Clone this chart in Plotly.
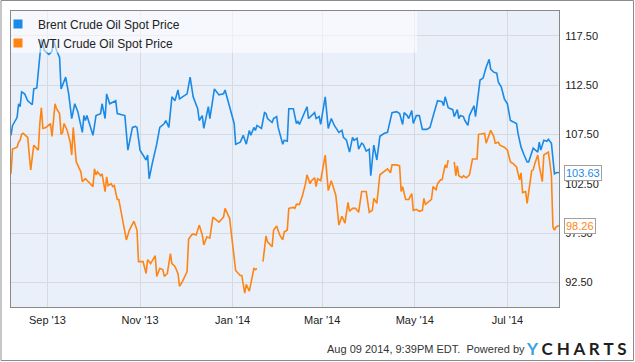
import plotly.graph_objects as go

# ---------------- data ----------------
brent_dates = [
    "2013-08-08", "2013-08-09", "2013-08-12", "2013-08-13", "2013-08-14", "2013-08-15", "2013-08-17",
    "2013-08-19", "2013-08-22", "2013-08-23", "2013-08-25", "2013-08-27", "2013-08-28", "2013-08-30",
    "2013-09-02", "2013-09-04", "2013-09-05", "2013-09-07", "2013-09-09", "2013-09-10", "2013-09-13",
    "2013-09-15", "2013-09-17", "2013-09-19", "2013-09-21", "2013-09-24", "2013-09-25", "2013-09-26",
    "2013-09-27", "2013-10-01", "2013-10-03", "2013-10-06", "2013-10-07", "2013-10-09", "2013-10-10",
    "2013-10-12", "2013-10-16", "2013-10-17", "2013-10-22", "2013-10-24", "2013-10-27", "2013-10-29",
    "2013-10-30", "2013-11-01", "2013-11-03", "2013-11-05", "2013-11-06", "2013-11-07", "2013-11-09",
    "2013-11-12", "2013-11-14", "2013-11-17", "2013-11-18", "2013-11-20", "2013-11-22", "2013-11-24",
    "2013-11-26", "2013-11-27", "2013-11-29", "2013-12-02", "2013-12-04", "2013-12-06", "2013-12-09",
    "2013-12-10", "2013-12-12", "2013-12-13", "2013-12-16", "2013-12-17", "2013-12-20", "2013-12-23",
    "2013-12-26", "2013-12-27", "2013-12-30", "2014-01-02", "2014-01-03", "2014-01-06", "2014-01-08",
    "2014-01-10", "2014-01-12", "2014-01-13", "2014-01-15", "2014-01-16", "2014-01-17", "2014-01-20",
    "2014-01-22", "2014-01-23", "2014-01-24", "2014-01-27", "2014-01-28", "2014-01-30", "2014-01-31",
    "2014-02-03", "2014-02-04", "2014-02-06", "2014-02-07", "2014-02-10", "2014-02-12", "2014-02-13",
    "2014-02-14", "2014-02-17", "2014-02-19", "2014-02-20", "2014-02-22", "2014-02-24", "2014-02-25",
    "2014-02-27", "2014-02-28", "2014-03-03", "2014-03-05", "2014-03-07", "2014-03-09", "2014-03-12",
    "2014-03-14", "2014-03-15", "2014-03-17", "2014-03-19", "2014-03-21", "2014-03-22", "2014-03-24",
    "2014-03-25", "2014-03-27", "2014-03-28", "2014-03-30", "2014-04-01", "2014-04-02", "2014-04-04",
    "2014-04-06", "2014-04-08", "2014-04-11", "2014-04-13", "2014-04-16", "2014-04-19", "2014-04-21",
    "2014-04-23", "2014-04-24", "2014-04-26", "2014-04-27", "2014-04-29", "2014-04-30", "2014-05-02",
    "2014-05-04", "2014-05-06", "2014-05-09", "2014-05-11", "2014-05-13", "2014-05-14", "2014-05-16",
    "2014-05-19", "2014-05-20", "2014-05-21", "2014-05-23", "2014-05-26", "2014-05-27", "2014-05-29",
    "2014-05-30", "2014-05-31", "2014-06-02", "2014-06-03", "2014-06-05", "2014-06-06", "2014-06-09",
    "2014-06-10", "2014-06-11", "2014-06-13", "2014-06-15", "2014-06-17", "2014-06-19", "2014-06-20",
    "2014-06-22", "2014-06-24", "2014-06-25", "2014-06-27", "2014-06-29", "2014-07-01", "2014-07-03",
    "2014-07-07", "2014-07-08", "2014-07-10", "2014-07-12", "2014-07-14", "2014-07-15", "2014-07-17",
    "2014-07-18", "2014-07-21", "2014-07-22", "2014-07-23", "2014-07-25", "2014-07-27", "2014-07-28",
    "2014-07-30", "2014-07-31", "2014-08-01", "2014-08-02", "2014-08-04",
]
brent_price = [
    107.4, 108.4, 109.2, 110.6, 110.3, 111.8, 111.6,
    110.9, 110.5, 112.1, 112.2, 115.1, 117.1, 116.0,
    115.6, 115.9, 117.1, 116.0, 115.3, 112.1, 113.3,
    111.6, 109.1, 110.6, 109.8, 107.7, 109.4, 108.9,
    109.4, 107.4, 109.4, 109.6, 110.6, 109.1, 111.6,
    110.6, 110.9, 109.6, 109.4, 105.9, 108.2, 108.3,
    108.2, 105.9, 105.4, 104.9, 105.4, 103.0, 104.5,
    106.5, 108.2, 108.6, 108.9, 108.2, 111.3, 110.9,
    112.0, 111.1, 111.3, 111.6, 113.3, 111.3, 110.1,
    108.9, 109.4, 108.1, 110.3, 109.1, 112.1, 111.5,
    111.6, 112.0, 110.3, 108.6, 106.5, 106.7, 107.4,
    106.5, 107.9, 107.4, 108.2, 107.9, 108.4, 108.1,
    109.7, 109.6, 109.1, 108.7, 109.1, 109.3, 108.2,
    106.5, 106.9, 106.8, 110.1, 110.1, 108.6, 108.8,
    108.5, 109.6, 110.3, 109.1, 109.4, 109.7, 109.1,
    109.3, 108.5, 111.3, 108.1, 109.1, 108.4, 107.7,
    107.9, 107.2, 106.9, 105.7, 107.2, 106.9, 107.1,
    106.0, 106.6, 106.5, 105.8, 106.0, 103.3, 106.4,
    104.9, 107.3, 107.6, 107.7, 109.7, 109.8, 109.6,
    108.5, 109.7, 109.4, 109.1, 109.9, 108.6, 109.4,
    109.4, 108.0, 108.0, 108.2, 109.3, 109.8, 110.9,
    110.8, 110.4, 111.3, 110.2, 110.0, 109.3, 110.0,
    109.1, 109.4, 109.3, 108.9, 108.4, 109.4, 110.4,
    109.3, 110.6, 113.0, 113.2, 114.3, 115.1, 114.1,
    113.8, 113.7, 112.8, 112.3, 111.1, 110.6, 108.9,
    108.6, 107.6, 106.2, 105.4, 104.7, 104.7, 105.7,
    106.1, 105.7, 106.7, 105.9, 106.9, 106.8, 107.0,
    106.6, 104.6, 103.5, 103.6, 103.63,
]

wti_dates = [
    "2013-08-08", "2013-08-09", "2013-08-12", "2013-08-13", "2013-08-14", "2013-08-15", "2013-08-16",
    "2013-08-19", "2013-08-20", "2013-08-21", "2013-08-23", "2013-08-24", "2013-08-26", "2013-08-27",
    "2013-08-28", "2013-08-29", "2013-08-31", "2013-09-03", "2013-09-04", "2013-09-06", "2013-09-07",
    "2013-09-09", "2013-09-10", "2013-09-11", "2013-09-12", "2013-09-14", "2013-09-16", "2013-09-17",
    "2013-09-18", "2013-09-20", "2013-09-23", "2013-09-24", "2013-09-26", "2013-09-28", "2013-10-01",
    "2013-10-02", "2013-10-03", "2013-10-04", "2013-10-06", "2013-10-07", "2013-10-09", "2013-10-10",
    "2013-10-11", "2013-10-13", "2013-10-14", "2013-10-15", "2013-10-17", "2013-10-18", "2013-10-19",
    "2013-10-21", "2013-10-23", "2013-10-25", "2013-10-28", "2013-10-30", "2013-10-31", "2013-11-03",
    "2013-11-05", "2013-11-06", "2013-11-08", "2013-11-11", "2013-11-12", "2013-11-14", "2013-11-16",
    "2013-11-17", "2013-11-19", "2013-11-21", "2013-11-22", "2013-11-24", "2013-11-26", "2013-11-27",
    "2013-11-29", "2013-12-02", "2013-12-03", "2013-12-05", "2013-12-06", "2013-12-08", "2013-12-10",
    "2013-12-12", "2013-12-13", "2013-12-15", "2013-12-17", "2013-12-19", "2013-12-23", "2013-12-26",
    "2013-12-27", "2013-12-30", "2013-12-31", "2014-01-03", "2014-01-06", "2014-01-07", "2014-01-09",
    "2014-01-10", "2014-01-12", "2014-01-15", "2014-01-16", "2014-01-17", "2014-01-20", "2014-01-21",
    "2014-01-23", "2014-01-24", "2014-01-27", "2014-01-28", "2014-01-30", "2014-02-01", "2014-02-03",
    "2014-02-04", "2014-02-06", "2014-02-07", "2014-02-10", "2014-02-11", "2014-02-12", "2014-02-14",
    "2014-02-16", "2014-02-18", "2014-02-19", "2014-02-21", "2014-02-22", "2014-02-24", "2014-02-25",
    "2014-02-26", "2014-02-28", "2014-03-03", "2014-03-05", "2014-03-07", "2014-03-08", "2014-03-10",
    "2014-03-12", "2014-03-14", "2014-03-16", "2014-03-18", "2014-03-19", "2014-03-21", "2014-03-23",
    "2014-03-25", "2014-03-27", "2014-03-28", "2014-03-30", "2014-04-01", "2014-04-03", "2014-04-04",
    "2014-04-06", "2014-04-08", "2014-04-11", "2014-04-13", "2014-04-15", "2014-04-16", "2014-04-19",
    "2014-04-21", "2014-04-22", "2014-04-23", "2014-04-25", "2014-04-27", "2014-04-29", "2014-04-30",
    "2014-05-02", "2014-05-03", "2014-05-04", "2014-05-06", "2014-05-07", "2014-05-08", "2014-05-10",
    "2014-05-12", "2014-05-13", "2014-05-15", "2014-05-16", "2014-05-18", "2014-05-19", "2014-05-21",
    "2014-05-22", "2014-05-23", "2014-05-26", "2014-05-27", "2014-05-28", "2014-05-29", "2014-05-30",
    "2014-06-01", "2014-06-02", "2014-06-04", "2014-06-06", "2014-06-08", "2014-06-10", "2014-06-11",
    "2014-06-12", "2014-06-16", "2014-06-17", "2014-06-20", "2014-06-22", "2014-06-23", "2014-06-25",
    "2014-06-26", "2014-06-29", "2014-07-01", "2014-07-03", "2014-07-05", "2014-07-07", "2014-07-09",
    "2014-07-10", "2014-07-11", "2014-07-13", "2014-07-14", "2014-07-17", "2014-07-18", "2014-07-19",
    "2014-07-21", "2014-07-22", "2014-07-24", "2014-07-25", "2014-07-27", "2014-07-28", "2014-07-29",
    "2014-07-30", "2014-07-31", "2014-08-01", "2014-08-02", "2014-08-04",
]
wti_price = [
    103.5, 106.0, 106.2, 106.7, 106.9, 107.5, 107.6,
    107.2, 105.5, 103.9, 106.4, 106.2, 105.9, 108.6,
    110.2, 108.1, 108.2, 108.6, 107.3, 110.6, 110.1,
    109.6, 107.5, 107.7, 108.6, 107.9, 106.7, 105.4,
    108.2, 104.7, 103.7, 102.7, 103.0, 102.7, 102.2,
    104.0, 103.4, 103.7, 103.3, 103.5, 101.7, 103.2,
    102.3, 102.5, 102.2, 102.3, 100.9, 100.9, 100.0,
    98.4, 96.8, 97.8, 98.7, 97.8, 94.6, 94.6,
    93.4, 94.8, 94.4, 95.2, 93.1, 93.9, 93.8,
    93.1, 93.4, 95.4, 94.4, 94.1, 93.4, 92.1,
    92.6, 93.6, 96.9, 97.3, 97.4, 97.3, 98.3,
    97.3, 96.3, 97.1, 97.0, 99.1, 98.6, 99.1,
    100.0, 99.0, 97.8, 93.7, 93.2, 93.2, 91.4,
    92.3, 91.6, 93.9, 93.8, 93.9, None, 94.6,
    97.2, 96.6, 96.1, 97.8, 98.2, 97.3, 96.8,
    97.6, 97.8, 100.0, 100.1, 100.0, 100.4, 100.4,
    101.3, 102.5, 103.4, 102.5, 102.8, 103.1, 102.2,
    103.0, 102.8, 105.4, 101.8, 102.8, 102.2, 101.3,
    98.3, 99.2, 98.5, 100.6, 99.7, 100.0, 100.0,
    99.6, 101.7, 101.7, 101.7, 99.6, 99.8, 101.0,
    100.5, 103.4, 103.8, 104.0, 103.6, 104.4, 104.4,
    104.3, 101.7, 102.2, 100.9, 100.9, 101.5, 99.8,
    99.9, 99.8, 99.7, 99.8, 101.0, 100.4, 100.7,
    100.9, 102.2, 101.9, 102.5, 102.9, 102.9, 104.4,
    104.1, 104.9, None, 104.7, 103.3, 104.3, 103.3,
    103.1, 103.3, 103.1, 103.4, 105.0, 105.0, 105.0,
    107.5, 107.6, 106.6, 107.9, 107.3, 106.6, 106.7,
    106.4, 106.2, 105.9, 104.7, 104.5, 104.2, 102.9,
    103.6, 101.6, 101.7, 100.5, 103.8, 103.9, 104.5,
    105.4, 104.3, 102.7, 105.4, 105.6, 105.7, 104.6,
    103.3, 98.1, 97.8, 98.1, 98.26,
]

series_names = ["Brent Crude Oil Spot Price", "WTI Crude Oil Spot Price"]
y_ticks = [92.5, 97.5, 102.5, 107.5, 112.5, 117.5]
y_range = [90, 120]
x_range = ["2013-08-08", "2014-08-04"]
footer_text = "Aug 09 2014, 9:39PM EDT.  Powered by"

# ---------------- styling ----------------
BLUE = "#1a8ae6"
ORANGE = "#ff8412"
FONT = "Liberation Sans, Arial, sans-serif"
W, H = 635, 362
ML, MR, MT, MB = 11, 76, 11, 55
PW, PH = W - ML - MR, H - MT - MB


def px_to_paper_x(px):
    return (px - ML) / PW


def px_to_paper_y(py):
    return (H - MB - py) / PH


fig = go.Figure()

fig.add_trace(go.Scatter(x=brent_dates, y=brent_price, mode="lines",
                         line=dict(color=BLUE, width=1.6), showlegend=False,
                         name=series_names[0]))
fig.add_trace(go.Scatter(x=wti_dates, y=wti_price, mode="lines",
                         line=dict(color=ORANGE, width=1.6), showlegend=False,
                         connectgaps=False, name=series_names[1]))

# legend entries (square swatches)
for name, col in zip(series_names, [BLUE, ORANGE]):
    fig.add_trace(go.Scatter(x=[None], y=[None], mode="markers", name=name,
                             marker=dict(symbol="square", size=9, color=col)))

# last value callouts
for vals, col in [(brent_price, BLUE), (wti_price, ORANGE)]:
    fig.add_annotation(xref="paper", yref="y", x=1, y=vals[-1],
                       xanchor="left", yanchor="middle", xshift=5,
                       text=f"{vals[-1]:.2f}", showarrow=False,
                       font=dict(family=FONT, size=11, color=col),
                       bgcolor="white", bordercolor="#a0a0a0", borderwidth=1,
                       borderpad=1)

# footer
fig.add_annotation(xref="paper", yref="paper", x=px_to_paper_x(527), y=px_to_paper_y(349),
                   xanchor="right", yanchor="middle", text=footer_text, showarrow=False,
                   font=dict(family=FONT, size=11, color="#333333"))
fig.add_annotation(xref="paper", yref="paper", x=px_to_paper_x(524), y=px_to_paper_y(348),
                   xanchor="left", yanchor="middle", showarrow=False,
                   text="<b><span style='color:#3aa0e0'>Y</span> C H A R T S</b>",
                   font=dict(family="Lato, Open Sans, sans-serif", size=17, color="#1e1e1e"))

shapes = [
    # translucent legend band
    dict(type="rect", xref="paper", yref="paper", x0=0, x1=px_to_paper_x(417),
         y0=px_to_paper_y(52.7), y1=1, fillcolor="rgba(255,255,255,0.55)",
         line=dict(width=0), layer="above"),
    # outer frame
    dict(type="rect", xref="paper", yref="paper", x0=px_to_paper_x(1), x1=px_to_paper_x(633.5),
         y0=px_to_paper_y(360.5), y1=px_to_paper_y(0.5), line=dict(color="#8c8c8c", width=1),
         fillcolor="rgba(0,0,0,0)", layer="below"),
]

fig.update_layout(
    width=W, height=H,
    margin=dict(l=ML, r=MR, t=MT, b=MB, autoexpand=False),
    paper_bgcolor="white", plot_bgcolor="#eaf0fa",
    font=dict(family=FONT, size=11, color="#222222"),
    shapes=shapes,
    legend=dict(x=px_to_paper_x(-2), y=1 + 1.5 / PH, xanchor="left", yanchor="top",
                bgcolor="rgba(0,0,0,0)", font=dict(family=FONT, size=12, color="#222222"),
                itemclick=False),
    xaxis=dict(type="date", range=x_range, tick0="2013-09-01", dtick="M2",
               tickformat="%b '%y", showgrid=True, gridcolor="#d6d9de", gridwidth=1,
               showline=True, linecolor="#888888", linewidth=1, mirror=True,
               ticks="", ticklabelstandoff=3, zeroline=False,
               tickfont=dict(family=FONT, size=11, color="#222222")),
    yaxis=dict(range=y_range, side="right", tickvals=y_ticks, tickformat=".2f",
               showgrid=True, gridcolor="#d6d9de", gridwidth=1,
               showline=True, linecolor="#888888", linewidth=1, mirror=True,
               ticks="", ticklabelstandoff=3, zeroline=False,
               tickfont=dict(family=FONT, size=11, color="#222222")),
    hovermode=False,
)

fig.write_html("out.html", config={"displayModeBar": False},
               post_script="document.body.style.margin='0';")
